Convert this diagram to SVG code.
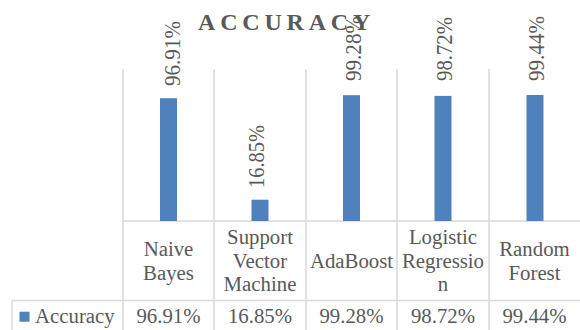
<svg xmlns="http://www.w3.org/2000/svg" width="580" height="330" viewBox="0 0 580 330">
<style>
.grid{stroke:#d9d9d9;stroke-width:1.5;fill:none}
.bar{fill:#4f81bd}
text{font-family:'Liberation Serif','Times New Roman',serif;fill:#595959}
.t{font-size:20.8px;text-anchor:middle}
.dl{font-size:23px}
.title{font-size:24px;font-weight:bold;letter-spacing:4.8px}
</style>
<rect width="580" height="330" fill="#ffffff"/>
<g id="gridlines">
<line class="grid" x1="123" y1="69" x2="123" y2="330"/>
<line class="grid" x1="214" y1="69" x2="214" y2="330"/>
<line class="grid" x1="306" y1="69" x2="306" y2="330"/>
<line class="grid" x1="397" y1="69" x2="397" y2="330"/>
<line class="grid" x1="489" y1="69" x2="489" y2="330"/>
<line class="grid" x1="123" y1="221" x2="580" y2="221"/>
<line class="grid" x1="12" y1="300.5" x2="580" y2="300.5"/>
<line class="grid" x1="12" y1="300.5" x2="12" y2="330"/>
</g>
<g id="bars">
<rect class="bar" x="160" y="98.2" width="17" height="122.8"/>
<rect class="bar" x="251.5" y="199.7" width="17" height="21.3"/>
<rect class="bar" x="343" y="95.2" width="17" height="125.8"/>
<rect class="bar" x="434.5" y="95.9" width="17" height="125.1"/>
<rect class="bar" x="526.5" y="95" width="17" height="126"/>
</g>
<g id="data-labels">
<text class="dl" transform="translate(179.5,86) rotate(-90)" textLength="65" lengthAdjust="spacingAndGlyphs">96.91%</text>
<text class="dl" transform="translate(263.5,188) rotate(-90)" textLength="63" lengthAdjust="spacingAndGlyphs">16.85%</text>
<text class="dl" transform="translate(360.5,81) rotate(-90)" textLength="65" lengthAdjust="spacingAndGlyphs">99.28%</text>
<text class="dl" transform="translate(452,81) rotate(-90)" textLength="64" lengthAdjust="spacingAndGlyphs">98.72%</text>
<text class="dl" transform="translate(544,81) rotate(-90)" textLength="65" lengthAdjust="spacingAndGlyphs">99.44%</text>
</g>
<text id="title" class="title" x="198" y="30">ACCURACY</text>
<g id="categories">
<text class="t" x="168.5" y="256">Naive</text>
<text class="t" x="168.5" y="279.5">Bayes</text>
<text class="t" x="260" y="244">Support</text>
<text class="t" x="260" y="267.5">Vector</text>
<text class="t" x="260" y="291">Machine</text>
<text class="t" x="351.5" y="267.5">AdaBoost</text>
<text class="t" x="443" y="244">Logistic</text>
<text class="t" x="443" y="267.5">Regressio</text>
<text class="t" x="443" y="291">n</text>
<text class="t" x="534.5" y="256">Random</text>
<text class="t" x="534.5" y="279.5">Forest</text>
</g>
<g id="legend">
<rect class="bar" x="19.5" y="311.7" width="10" height="10"/>
<text class="t" x="35" y="323" style="text-anchor:start">Accuracy</text>
</g>
<g id="values">
<text class="t" x="168.5" y="323">96.91%</text>
<text class="t" x="260" y="323">16.85%</text>
<text class="t" x="351.5" y="323">99.28%</text>
<text class="t" x="443" y="323">98.72%</text>
<text class="t" x="534.5" y="323">99.44%</text>
</g>
</svg>
